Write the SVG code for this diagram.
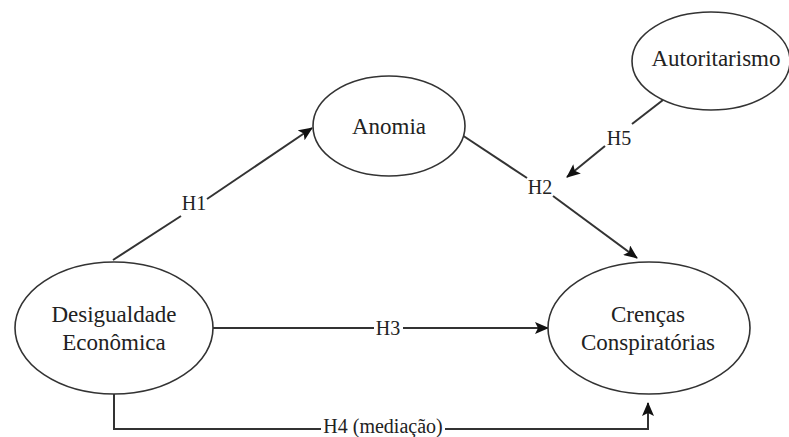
<svg xmlns="http://www.w3.org/2000/svg" width="789" height="437" viewBox="0 0 789 437">
  <style>
    .node ellipse { fill: #ffffff; stroke: #333333; stroke-width: 1.6; }
    .node text { font-family: "Liberation Serif", "Tinos", "Times New Roman", "DejaVu Serif", serif; font-size: 23px; fill: #222222; text-anchor: middle; }
    .conn line, .conn path { stroke: #333333; stroke-width: 2; fill: none; }
    .lbl { font-family: "Liberation Serif", "Tinos", "Times New Roman", "DejaVu Serif", serif; font-size: 20px; fill: #222222; text-anchor: middle; }
  </style>
  <defs>
    <marker id="arrow" markerUnits="userSpaceOnUse" markerWidth="14" markerHeight="12" refX="13" refY="6" orient="auto">
      <path d="M0,0 L14,6 L0,12 L3,6 Z" fill="#111111"/>
    </marker>
  </defs>
  <rect width="789" height="437" fill="#ffffff"/>

  <g id="connectors" class="conn">
    <line x1="113" y1="260" x2="181" y2="216"/>
    <line x1="207" y1="199" x2="312" y2="128" marker-end="url(#arrow)"/>
    <line x1="462" y1="135" x2="527" y2="178"/>
    <line x1="553" y1="196" x2="637" y2="258" marker-end="url(#arrow)"/>
    <line x1="663" y1="100" x2="632" y2="124"/>
    <line x1="605" y1="146" x2="567" y2="177" marker-end="url(#arrow)"/>
    <line x1="213" y1="328" x2="374" y2="328"/>
    <line x1="403" y1="328" x2="548" y2="328" marker-end="url(#arrow)"/>
    <path d="M114,394 V429 H321"/>
    <path d="M445,429 H648 V403" marker-end="url(#arrow)"/>
    <text class="lbl" x="194" y="210">H1</text>
    <text class="lbl" x="540" y="194">H2</text>
    <text class="lbl" x="619" y="145">H5</text>
    <text class="lbl" x="388" y="335">H3</text>
    <text class="lbl" x="383" y="433">H4 (mediação)</text>
  </g>

  <g id="node-desigualdade" class="node">
    <ellipse cx="114" cy="328" rx="99" ry="66"/>
    <text x="114" y="322">Desigualdade</text>
    <text x="114" y="350">Econômica</text>
  </g>
  <g id="node-crencas" class="node">
    <ellipse cx="649" cy="328" rx="101" ry="66"/>
    <text x="648" y="322">Crenças</text>
    <text x="648" y="350">Conspiratórias</text>
  </g>
  <g id="node-anomia" class="node">
    <ellipse cx="389" cy="126" rx="76" ry="50"/>
    <text x="389" y="134">Anomia</text>
  </g>
  <g id="node-autoritarismo" class="node">
    <ellipse cx="711" cy="61" rx="79" ry="49"/>
    <text x="716" y="66">Autoritarismo</text>
  </g>
</svg>
